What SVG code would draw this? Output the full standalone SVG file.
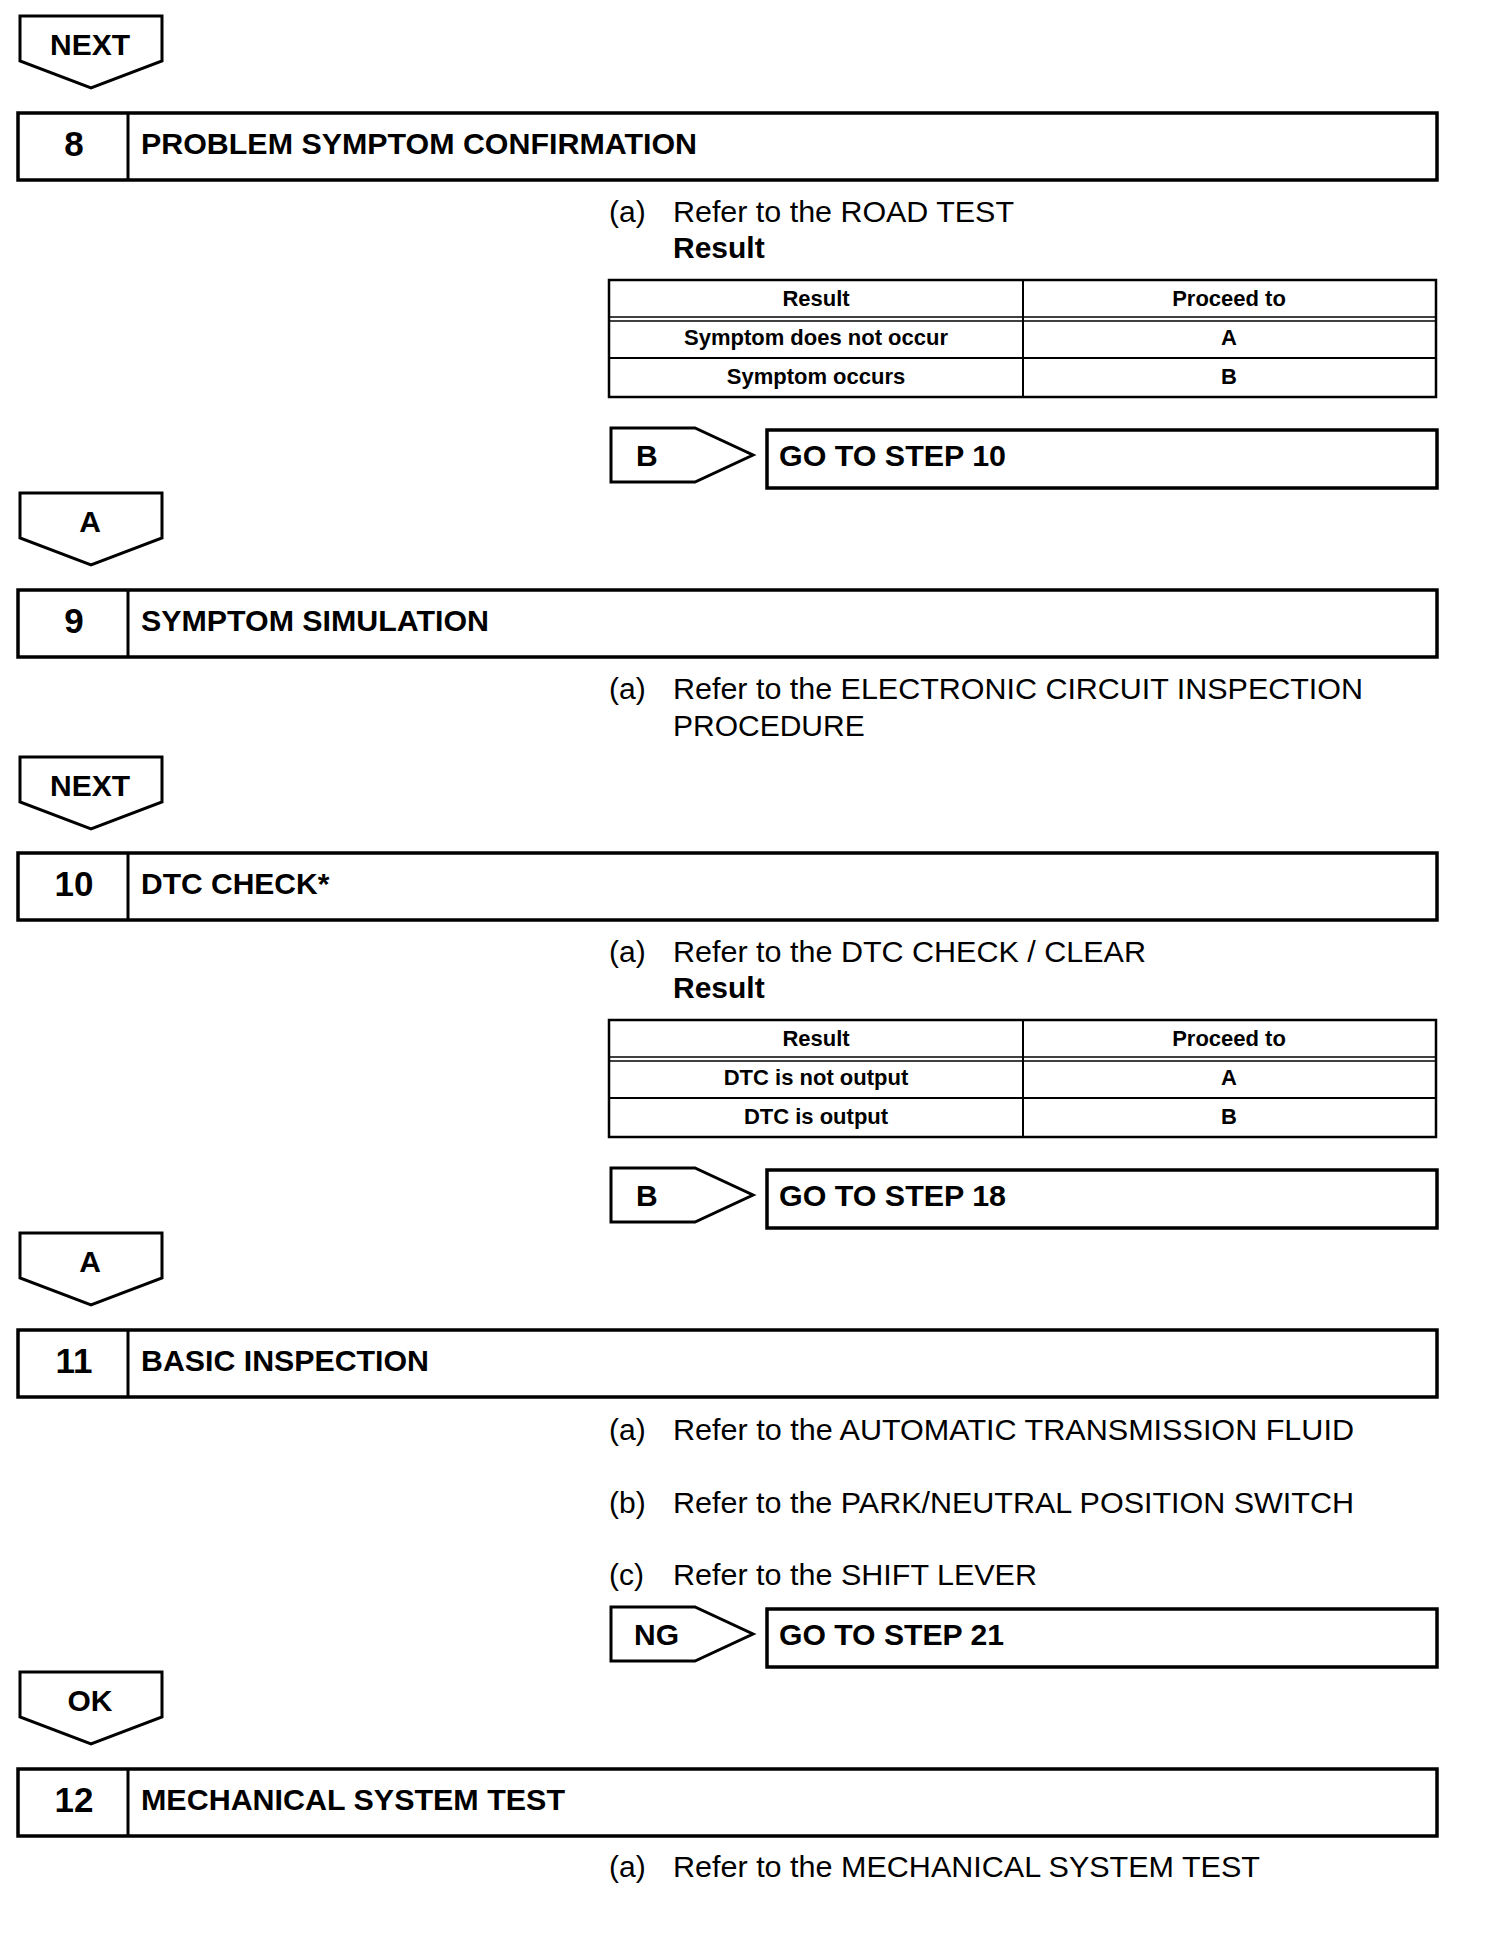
<svg xmlns="http://www.w3.org/2000/svg" width="1504" height="1944" viewBox="0 0 1504 1944">
<style>
.bg{fill:#fff}
.box{fill:#fff;stroke:#000;stroke-width:3.5}
.div{stroke:#000;stroke-width:3}
.arr{fill:#fff;stroke:#000;stroke-width:3;stroke-linejoin:miter}
.tb{fill:#fff;stroke:#000;stroke-width:2.5}
.tl{stroke:#000;stroke-width:2}
.tl2{stroke:#000;stroke-width:1.6}
text{font-family:"Liberation Sans",Arial,Helvetica,sans-serif;fill:#000}
.lbl{font-size:30px;font-weight:bold;text-anchor:middle}
.lbs{font-size:30px;font-weight:bold}
.num{font-size:35px;font-weight:bold;text-anchor:middle}
.ttl{font-size:30px;font-weight:bold}
.txt{font-size:30px}
.res{font-size:30px;font-weight:bold}
.th{font-size:22px;font-weight:bold;text-anchor:middle}
</style>
<defs>
<polygon id="down" points="0,0 142,0 142,45 71,72 0,45"/>
<polygon id="right" points="0,0 84,0 142,27 84,54 0,54"/>
</defs>
<rect class="bg" x="0" y="0" width="1504" height="1944"/>

<g id="connectors">
  <g id="next1"><use href="#down" class="arr" x="20" y="16"/><text class="lbl" x="90" y="55">NEXT</text></g>
  <g id="arrA1"><use href="#down" class="arr" x="20" y="493"/><text class="lbl" x="90" y="532">A</text></g>
  <g id="next2"><use href="#down" class="arr" x="20" y="757"/><text class="lbl" x="90" y="796">NEXT</text></g>
  <g id="arrA2"><use href="#down" class="arr" x="20" y="1233"/><text class="lbl" x="90" y="1272">A</text></g>
  <g id="arrOK"><use href="#down" class="arr" x="20" y="1672"/><text class="lbl" x="90" y="1711">OK</text></g>
  <g id="arrB1"><use href="#right" class="arr" x="611" y="428"/><text class="lbs" x="636" y="466">B</text></g>
  <g id="arrB2"><use href="#right" class="arr" x="611" y="1168"/><text class="lbs" x="636" y="1206">B</text></g>
  <g id="arrNG"><use href="#right" class="arr" x="611" y="1607"/><text class="lbs" x="634" y="1645">NG</text></g>
</g>

<g id="step8">
  <rect class="box" x="18" y="113" width="1419" height="67"/>
  <line class="div" x1="128" y1="113" x2="128" y2="180"/>
  <text class="num" x="74" y="156">8</text>
  <text class="ttl" x="141" y="154" textLength="556" lengthAdjust="spacingAndGlyphs">PROBLEM SYMPTOM CONFIRMATION</text>
</g>
<g id="step8-text">
  <text class="txt" x="609" y="222">(a)</text>
  <text class="txt" x="673" y="222" textLength="341" lengthAdjust="spacingAndGlyphs">Refer to the ROAD TEST</text>
  <text class="res" x="673" y="258">Result</text>
</g>
<g id="table8">
  <rect class="tb" x="609" y="280" width="827" height="117"/>
  <line class="tl2" x1="609" y1="317" x2="1436" y2="317"/>
  <line class="tl2" x1="609" y1="321" x2="1436" y2="321"/>
  <line class="tl" x1="609" y1="358" x2="1436" y2="358"/>
  <line class="tl" x1="1023" y1="280" x2="1023" y2="397"/>
  <text class="th" x="816" y="306">Result</text>
  <text class="th" x="1229" y="306">Proceed to</text>
  <text class="th" x="816" y="345">Symptom does not occur</text>
  <text class="th" x="1229" y="345">A</text>
  <text class="th" x="816" y="384">Symptom occurs</text>
  <text class="th" x="1229" y="384">B</text>
</g>
<g id="goto10">
  <rect class="box" x="767" y="430" width="670" height="58"/>
  <text class="ttl" x="779" y="466" textLength="227" lengthAdjust="spacingAndGlyphs">GO TO STEP 10</text>
</g>

<g id="step9">
  <rect class="box" x="18" y="590" width="1419" height="67"/>
  <line class="div" x1="128" y1="590" x2="128" y2="657"/>
  <text class="num" x="74" y="633">9</text>
  <text class="ttl" x="141" y="631" textLength="348" lengthAdjust="spacingAndGlyphs">SYMPTOM SIMULATION</text>
</g>
<g id="step9-text">
  <text class="txt" x="609" y="699">(a)</text>
  <text class="txt" x="673" y="699" textLength="690" lengthAdjust="spacingAndGlyphs">Refer to the ELECTRONIC CIRCUIT INSPECTION</text>
  <text class="txt" x="673" y="736">PROCEDURE</text>
</g>

<g id="step10">
  <rect class="box" x="18" y="853" width="1419" height="67"/>
  <line class="div" x1="128" y1="853" x2="128" y2="920"/>
  <text class="num" x="74" y="896">10</text>
  <text class="ttl" x="141" y="894">DTC CHECK*</text>
</g>
<g id="step10-text">
  <text class="txt" x="609" y="962">(a)</text>
  <text class="txt" x="673" y="962" textLength="473" lengthAdjust="spacingAndGlyphs">Refer to the DTC CHECK / CLEAR</text>
  <text class="res" x="673" y="998">Result</text>
</g>
<g id="table10">
  <rect class="tb" x="609" y="1020" width="827" height="117"/>
  <line class="tl2" x1="609" y1="1057" x2="1436" y2="1057"/>
  <line class="tl2" x1="609" y1="1061" x2="1436" y2="1061"/>
  <line class="tl" x1="609" y1="1098" x2="1436" y2="1098"/>
  <line class="tl" x1="1023" y1="1020" x2="1023" y2="1137"/>
  <text class="th" x="816" y="1046">Result</text>
  <text class="th" x="1229" y="1046">Proceed to</text>
  <text class="th" x="816" y="1085">DTC is not output</text>
  <text class="th" x="1229" y="1085">A</text>
  <text class="th" x="816" y="1124">DTC is output</text>
  <text class="th" x="1229" y="1124">B</text>
</g>
<g id="goto18">
  <rect class="box" x="767" y="1170" width="670" height="58"/>
  <text class="ttl" x="779" y="1206" textLength="227" lengthAdjust="spacingAndGlyphs">GO TO STEP 18</text>
</g>

<g id="step11">
  <rect class="box" x="18" y="1330" width="1419" height="67"/>
  <line class="div" x1="128" y1="1330" x2="128" y2="1397"/>
  <text class="num" x="74" y="1373">11</text>
  <text class="ttl" x="141" y="1371" textLength="288" lengthAdjust="spacingAndGlyphs">BASIC INSPECTION</text>
</g>
<g id="step11-text">
  <text class="txt" x="609" y="1440">(a)</text>
  <text class="txt" x="673" y="1440" textLength="681" lengthAdjust="spacingAndGlyphs">Refer to the AUTOMATIC TRANSMISSION FLUID</text>
  <text class="txt" x="609" y="1513">(b)</text>
  <text class="txt" x="673" y="1513" textLength="681" lengthAdjust="spacingAndGlyphs">Refer to the PARK/NEUTRAL POSITION SWITCH</text>
  <text class="txt" x="609" y="1585">(c)</text>
  <text class="txt" x="673" y="1585" textLength="364" lengthAdjust="spacingAndGlyphs">Refer to the SHIFT LEVER</text>
</g>
<g id="goto21">
  <rect class="box" x="767" y="1609" width="670" height="58"/>
  <text class="ttl" x="779" y="1645" textLength="225" lengthAdjust="spacingAndGlyphs">GO TO STEP 21</text>
</g>

<g id="step12">
  <rect class="box" x="18" y="1769" width="1419" height="67"/>
  <line class="div" x1="128" y1="1769" x2="128" y2="1836"/>
  <text class="num" x="74" y="1812">12</text>
  <text class="ttl" x="141" y="1810" textLength="424" lengthAdjust="spacingAndGlyphs">MECHANICAL SYSTEM TEST</text>
</g>
<g id="step12-text">
  <text class="txt" x="609" y="1877">(a)</text>
  <text class="txt" x="673" y="1877" textLength="587" lengthAdjust="spacingAndGlyphs">Refer to the MECHANICAL SYSTEM TEST</text>
</g>
</svg>
